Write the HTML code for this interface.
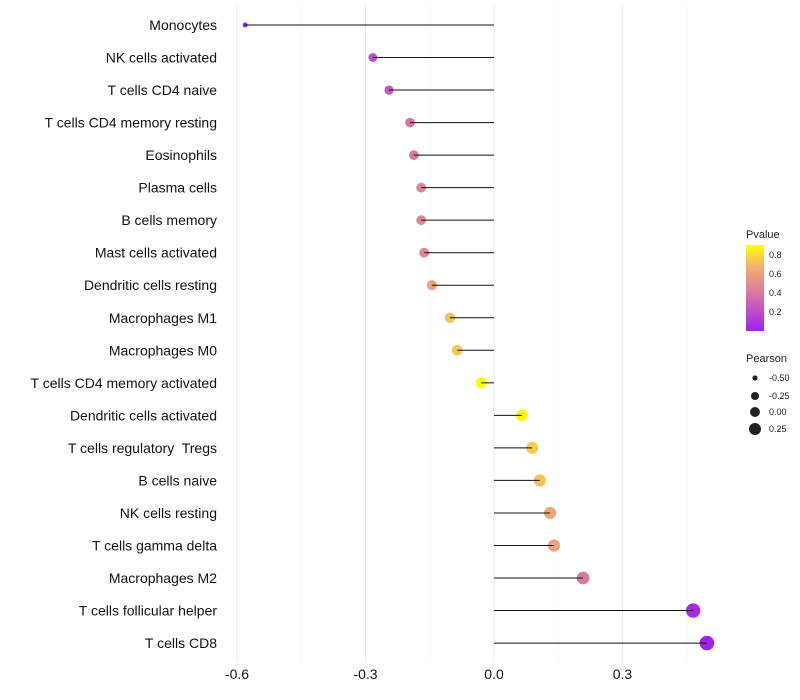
<!DOCTYPE html>
<html><head><meta charset="utf-8"><style>
body{margin:0;background:#fff;font-family:"Liberation Sans",sans-serif}
svg{display:block}
</style></head><body>
<svg id="chart" width="800" height="700">
<defs><linearGradient id="pg" x1="0" y1="1" x2="0" y2="0">
<stop offset="0" stop-color="#a020f0"/><stop offset="0.45" stop-color="#d97aa0"/><stop offset="0.75" stop-color="#f2b070"/><stop offset="1" stop-color="#ffff00"/>
</linearGradient></defs>
<g id="grid"></g><g id="dots"></g><g id="marks"></g><g id="labels"></g>
<g font-size="9" fill="#222">
<text x="746" y="238" font-size="11">Pvalue</text>
<rect x="746" y="245" width="18" height="86" fill="url(#pg)"/>
<text x="769" y="258">0.8</text><text x="769" y="277">0.6</text><text x="769" y="296">0.4</text><text x="769" y="315">0.2</text>
</g>
<g font-size="9" fill="#222">
<text x="746" y="362" font-size="11">Pearson</text>
<circle cx="755" cy="378" r="2.6"/><text x="769" y="381">-0.50</text>
<circle cx="755" cy="396" r="4"/><text x="769" y="399">-0.25</text>
<circle cx="755" cy="412" r="5"/><text x="769" y="415">0.00</text>
<circle cx="755" cy="429" r="6"/><text x="769" y="432">0.25</text>
</g>
</svg>
<script>
const cells=["Monocytes","NK cells activated","T cells CD4 naive","T cells CD4 memory resting","Eosinophils","Plasma cells","B cells memory","Mast cells activated","Dendritic cells resting","Macrophages M1","Macrophages M0","T cells CD4 memory activated","Dendritic cells activated","T cells regulatory  Tregs","B cells naive","NK cells resting","T cells gamma delta","Macrophages M2","T cells follicular helper","T cells CD8"];
const pearson=[-0.581,-0.283,-0.245,-0.196,-0.187,-0.170,-0.170,-0.163,-0.145,-0.103,-0.086,-0.030,0.065,0.089,0.107,0.131,0.140,0.208,0.465,0.497];
const pvalue=[0.01,0.22,0.27,0.38,0.40,0.47,0.47,0.50,0.60,0.73,0.75,1.0,0.88,0.76,0.74,0.64,0.62,0.42,0.05,0.02];
const ticks=[-0.6,-0.3,0.0,0.3];
const NS="http://www.w3.org/2000/svg";
const x=v=>494+v*428.3;
const y=i=>25+i*32.53;
function el(t,a,p){const e=document.createElementNS(NS,t);for(const k in a)e.setAttribute(k,a[k]);p.appendChild(e);return e;}
const grid=document.getElementById('grid'),marks=document.getElementById('marks'),dots=document.getElementById('dots'),labels=document.getElementById('labels');
for(const t of [-0.45,-0.15,0.15,0.45]){const l=el('line',{x1:x(t),x2:x(t),y1:5,y2:662,stroke:'#f2f2f2','stroke-width':0.6},grid);

}
for(const t of ticks){const l=el('line',{x1:x(t),x2:x(t),y1:5,y2:662,stroke:'#ebebeb','stroke-width':1.1},grid);


const tx=el('text',{x:x(t),y:679,'text-anchor':'middle','font-size':14,fill:'#111'},labels);tx.textContent=t.toFixed(1);

}
function col(p){const s=[[0,[160,32,240]],[0.45,[217,122,160]],[0.75,[242,176,112]],[1,[255,255,0]]];
let f=Math.max(0,Math.min(1,(p-0.01)/0.9));for(let i=0;i<3;i++){if(f<=s[i+1][0]){const t=(f-s[i][0])/(s[i+1][0]-s[i][0]);const c=s[i][1].map((v,j)=>Math.round(v+(s[i+1][1][j]-v)*t));return `rgb(${c})`;}}return 'rgb(255,255,0)';}
const mn=-0.6,mx=0.5;
const rad=v=>Math.sqrt(4+(49-4)*(v-mn)/(mx-mn))+0.3;
cells.forEach((c,i)=>{
const lab=el('text',{x:217,y:y(i)+5,'text-anchor':'end','font-size':14,fill:'#111','xml:space':'preserve'},labels);lab.style.whiteSpace='pre';lab.textContent=c;


const d=el('circle',{cx:x(pearson[i]),cy:y(i),r:rad(pearson[i]),fill:col(pvalue[i])},dots);


const s=el('line',{x1:x(0),x2:x(pearson[i]),y1:y(i),y2:y(i),stroke:'#111','stroke-width':1},marks);


});
</script>
</body></html>
